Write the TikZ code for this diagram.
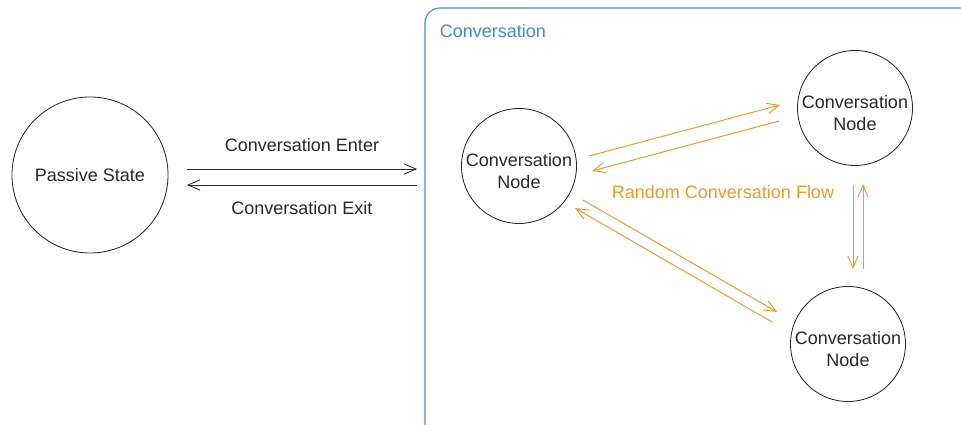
\documentclass[tikz,border=0pt]{standalone}
\usepackage{fontspec}
\setmainfont{Liberation Sans}
\usetikzlibrary{arrows.meta}
\usetikzlibrary{calc}
\definecolor{flowor}{RGB}{242,153,36}
\definecolor{convblue}{RGB}{62,138,214}
\definecolor{inkgray}{RGB}{40,40,40}
\newcommand{\topgap}{\rule{0pt}{16pt}}

\begin{document}
\begin{tikzpicture}[x=0.025cm,y=0.025cm,>={Straight Barb[length=3mm,width=2.6mm]},
      font=\fontsize{12.8}{15.6}\selectfont,
      state node/.style={circle,draw=inkgray,line width=0.6pt,inner sep=0pt,align=center,text=inkgray}]
    \useasboundingbox (0,0) rectangle (961,-425);
    \draw[convblue,line width=0.8pt,rounded corners=3.75mm] (425,-470) rectangle (1010,-8);
    \node[anchor=west,text=convblue] (CT) at (435,-31) {Conversation};
    \node[state node,minimum size=3.9cm]  (PS)  at (90,-175)  {Passive State};
    \node[state node,minimum size=2.85cm] (CN1) at (519,-166) {\topgap Conversation\\Node};
    \node[state node,minimum size=2.85cm] (CN2) at (855,-108) {\topgap Conversation\\Node};
    \node[state node,minimum size=2.85cm] (CN3) at (848,-344) {\topgap Conversation\\Node};
    \node[text=flowor] (RF) at (723,-192) {Random Conversation Flow};
         \path[draw=inkgray,line width=0.6pt,every node/.style={text=inkgray}]
         ($(PS)+(97,6)$)    edge [->] node [above=3.1mm] {Conversation Enter} ($(CN1)+(-102,-3)$)
         ($(CN1)+(-102,-19)$) edge [->] node [below=2.8mm] {Conversation Exit} ($(PS)+(97,-10)$);
         \path[draw=flowor,line width=0.7pt]
         ($(CN1)+(70,10)$)  edge [->] ($(CN2)+(-75,3)$)
         ($(CN2)+(-76,-13)$) edge [->] ($(CN1)+(73,-5)$)
         ($(CN2)+(-2,-77)$) edge [->] ($(CN3)+(5,75)$)
         ($(CN3)+(15,75)$)  edge [->] ($(CN2)+(8,-76)$)
         ($(CN1)+(64,-34)$) edge [->] ($(CN3)+(-71,32)$)
         ($(CN3)+(-76,22)$) edge [->] ($(CN1)+(56,-42)$);
  \end{tikzpicture}
\end{document}
